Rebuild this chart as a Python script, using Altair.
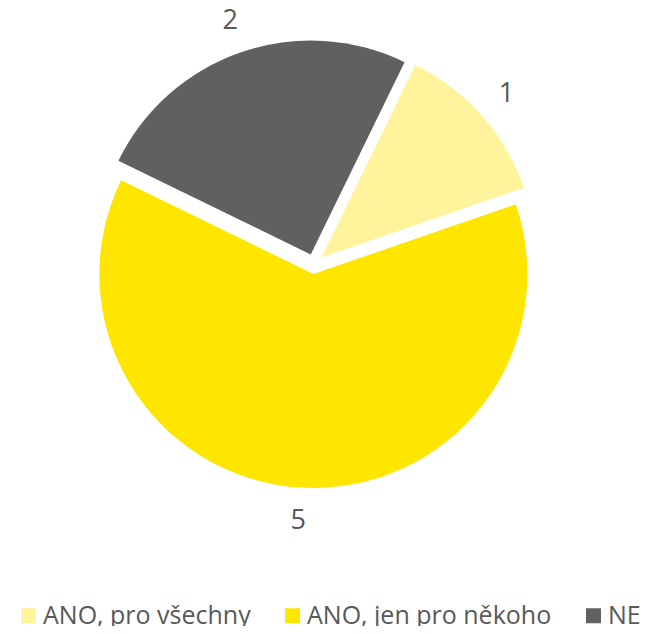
import math
import altair as alt
import pandas as pd

categories = ["ANO, pro všechny", "ANO, jen pro někoho", "NE"]
values = [1, 5, 2]
colors = ["#FFF39B", "#FFE600", "#606060"]

df = pd.DataFrame({"cat": categories, "val": values, "order": list(range(len(categories)))})

W, H = 636, 618
CX, CY = 306, 256
R = 214
EXPLODE = 10
LABEL_R = 257
START = math.radians(26)
total = sum(values)
FONT = "Open Sans"
TXT = "#595959"

xs = alt.Scale(domain=[-CX, W - CX], zero=False, nice=False)
ys = alt.Scale(domain=[CY - H, CY], zero=False, nice=False)

base = alt.Chart(df).transform_window(
    cum="sum(val)", sort=[alt.SortField("order")], frame=[None, 0]
).transform_calculate(
    start="datum.cum - datum.val"
).transform_calculate(
    end="datum.cum"
).transform_calculate(
    ang=f"{START} + (datum.cum - datum.val / 2) / {total} * 2 * PI"
).transform_calculate(
    dx=f"{EXPLODE} * sin(datum.ang)",
    dy=f"{EXPLODE} * cos(datum.ang)",
    lx=f"{LABEL_R} * sin(datum.ang)",
    ly=f"{LABEL_R} * cos(datum.ang)",
)

arcs = base.mark_arc(outerRadius=R).encode(
    x=alt.X("dx:Q", scale=xs, axis=None),
    y=alt.Y("dy:Q", scale=ys, axis=None),
    theta=alt.Theta("start:Q", scale=alt.Scale(domain=[0, total], range=[START, START + 2 * math.pi])),
    theta2="end:Q",
    color=alt.Color(
        "cat:N",
        scale=alt.Scale(domain=categories, range=colors),
        sort=categories,
        legend=alt.Legend(
            orient="none", legendX=8, legendY=595, direction="horizontal", title=None,
            symbolType="square", symbolSize=225, symbolStrokeWidth=0,
            labelFontSize=25, labelColor=TXT, labelFont=FONT, labelLimit=400,
            labelOffset=2, columnPadding=29, padding=0,
        ),
    ),
)

labels = base.mark_text(fontSize=27, font=FONT, color=TXT, align="center", baseline="middle").encode(
    x=alt.X("lx:Q", scale=xs, axis=None),
    y=alt.Y("ly:Q", scale=ys, axis=None),
    text="val:Q",
)

chart = alt.layer(arcs, labels).properties(
    width=W, height=H, autosize=alt.AutoSizeParams(type="none"), padding=0
).configure_view(stroke=None)

chart.save("out.html", embed_options={"renderer": "svg", "actions": False})
